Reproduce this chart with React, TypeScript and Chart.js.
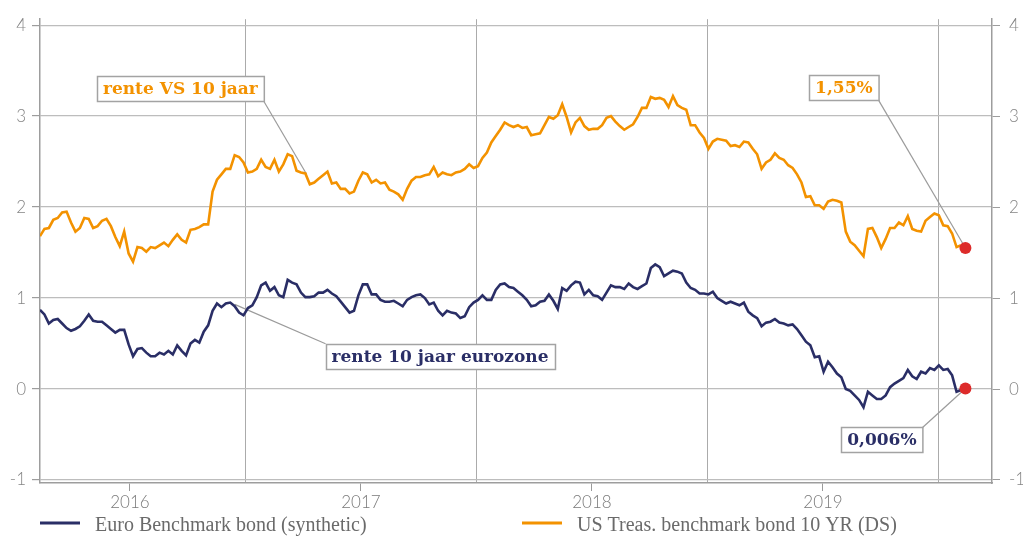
import React, { useEffect, useRef } from "react";
import { Chart, registerables } from "chart.js";

Chart.register(...registerables);

// ---------- data ----------
const FIRST_WEEK = "2015-08-12"; // weekly observations start here
const AXIS_START = "2015-08-12";
const AXIS_END = "2019-09-25";
const YEAR_TICKS = [2016, 2017, 2018, 2019];
const HALF_YEAR_LINES = [2016.5, 2017.5, 2018.5, 2019.5];
const Y_TICKS = [-1, 0, 1, 2, 3, 4];
const Y_MIN = -1.033;
const Y_MAX = 4.065;

const SERIES_NAMES = [
  "Euro Benchmark bond (synthetic)",
  "US Treas. benchmark bond 10 YR (DS)",
];

// Euro Benchmark bond (synthetic), weekly
const EURO = [
  0.87, 0.82, 0.72, 0.76, 0.77, 0.72, 0.67, 0.64, 0.66, 0.69,
  0.75, 0.82, 0.75, 0.74, 0.74, 0.7, 0.66, 0.62, 0.65, 0.65,
  0.49, 0.36, 0.44, 0.45, 0.4, 0.36, 0.36, 0.4, 0.38, 0.42,
  0.38, 0.48, 0.42, 0.37, 0.5, 0.54, 0.51, 0.63, 0.7, 0.86,
  0.94, 0.9, 0.94, 0.95, 0.91, 0.84, 0.81, 0.89, 0.92, 1.01,
  1.14, 1.17, 1.08, 1.12, 1.03, 1.01, 1.2, 1.17, 1.15, 1.06,
  1.01, 1.01, 1.02, 1.06, 1.06, 1.09, 1.05, 1.02, 0.96, 0.9,
  0.84, 0.86, 1.03, 1.15, 1.15, 1.04, 1.04, 0.98, 0.96, 0.96,
  0.97, 0.94, 0.91, 0.98, 1.01, 1.03, 1.04, 1.0, 0.93, 0.95,
  0.86, 0.81, 0.86, 0.84, 0.83, 0.78, 0.8, 0.9, 0.95, 0.98,
  1.03, 0.98, 0.98, 1.09, 1.15, 1.16, 1.12, 1.11, 1.07, 1.03,
  0.98, 0.91, 0.92, 0.96, 0.97, 1.04, 0.97, 0.88, 1.11, 1.08,
  1.14, 1.18, 1.17, 1.04, 1.09, 1.03, 1.02, 0.98, 1.06, 1.14,
  1.12, 1.12, 1.1, 1.16, 1.12, 1.1, 1.13, 1.16, 1.33, 1.37,
  1.34, 1.24, 1.27, 1.3, 1.29, 1.27, 1.17, 1.11, 1.09, 1.05,
  1.05, 1.04, 1.07, 1.0, 0.97, 0.94, 0.96, 0.94, 0.92, 0.95,
  0.85, 0.81, 0.78, 0.69, 0.73, 0.74, 0.77, 0.73, 0.72, 0.7,
  0.71, 0.66, 0.59, 0.52, 0.48, 0.35, 0.36, 0.19, 0.3, 0.24,
  0.17, 0.13, 0.0, -0.02, -0.07, -0.12, -0.2, -0.03, -0.07, -0.11,
  -0.11, -0.07, 0.02, 0.06, 0.09, 0.12, 0.21, 0.14, 0.11, 0.19,
  0.17, 0.23, 0.21, 0.26, 0.21, 0.22, 0.15, -0.03, -0.01,
];

// US Treasury benchmark bond 10 YR, weekly
const US = [
  1.68, 1.76, 1.77, 1.86, 1.88, 1.94, 1.95, 1.83, 1.73, 1.77,
  1.88, 1.87, 1.77, 1.79, 1.85, 1.87, 1.79, 1.67, 1.57, 1.73,
  1.49, 1.4, 1.56, 1.55, 1.51, 1.56, 1.55, 1.58, 1.61, 1.57,
  1.64, 1.7, 1.64, 1.61, 1.75, 1.76, 1.78, 1.81, 1.81, 2.17,
  2.3, 2.36, 2.42, 2.42, 2.57, 2.55, 2.49, 2.38, 2.39, 2.42,
  2.52, 2.44, 2.42, 2.52, 2.39, 2.47, 2.58, 2.56, 2.4, 2.38,
  2.37, 2.25, 2.27, 2.31, 2.35, 2.39, 2.26, 2.27, 2.2, 2.2,
  2.15, 2.17, 2.29, 2.38, 2.36, 2.27, 2.3, 2.26, 2.27, 2.19,
  2.17, 2.14, 2.08, 2.2, 2.29, 2.33, 2.33, 2.35, 2.36, 2.44,
  2.34, 2.38, 2.36, 2.35, 2.38, 2.39, 2.42, 2.47, 2.43, 2.45,
  2.54, 2.6, 2.71, 2.78, 2.85, 2.93, 2.9, 2.88, 2.9, 2.87,
  2.88, 2.79, 2.8, 2.81, 2.9, 2.99, 2.97, 3.01, 3.13, 2.99,
  2.82, 2.93, 2.98, 2.89, 2.85, 2.86, 2.86, 2.9, 2.98, 3.0,
  2.94, 2.89, 2.85, 2.88, 2.91, 2.99, 3.09, 3.09, 3.21, 3.19,
  3.2, 3.18, 3.1, 3.22, 3.12, 3.09, 3.07, 2.9, 2.9, 2.82,
  2.76, 2.64, 2.72, 2.75, 2.74, 2.73, 2.67, 2.68, 2.66, 2.72,
  2.71, 2.64, 2.58, 2.42, 2.49, 2.52, 2.59, 2.54, 2.52, 2.46,
  2.43, 2.36, 2.27, 2.11, 2.12, 2.02, 2.02, 1.98, 2.06, 2.08,
  2.07, 2.05, 1.73, 1.62, 1.58, 1.52, 1.46, 1.76, 1.77, 1.67,
  1.55, 1.65, 1.77, 1.77, 1.83, 1.8, 1.9, 1.76, 1.74, 1.73,
  1.85, 1.89, 1.93, 1.91, 1.8, 1.79, 1.71, 1.56, 1.58,
];

// Latest values (red markers)
const LAST_DATE = "2019-08-14";
const LAST_EURO = 0.006;
const LAST_US = 1.55;

const NAVY = "#2a2e66";
const ORANGE = "#f39200";
const RED = "#dd2b2a";

const ANNOTATIONS = [
  { text: "rente VS 10 jaar", color: ORANGE, boxDate: "2016-03-21", boxValue: 3.3, corner: "br", targetDate: "2016-10-07", targetValue: 2.36 },
  { text: "rente 10 jaar eurozone", color: NAVY, boxDate: "2017-05-06", boxValue: 0.36, corner: "tl", targetDate: "2016-06-15", targetValue: 0.93 },
  { text: "1,55%", color: ORANGE, boxDate: "2019-02-03", boxValue: 3.31, corner: "br", targetDate: LAST_DATE, targetValue: LAST_US },
  { text: "0,006%", color: NAVY, boxDate: "2019-04-04", boxValue: -0.56, corner: "tr", targetDate: LAST_DATE, targetValue: LAST_EURO },
];

// ---------- helpers ----------
function msToYear(ms: number): number {
  const y = new Date(ms).getUTCFullYear();
  const s = Date.UTC(y, 0, 1);
  const e = Date.UTC(y + 1, 0, 1);
  return y + (ms - s) / (e - s);
}
function dateMs(d: string): number {
  const [y, m, dd] = d.split("-").map(Number);
  return Date.UTC(y, m - 1, dd);
}
function toYear(d: string): number {
  return msToYear(dateMs(d));
}
const WEEK_X = EURO.map((_, i) => msToYear(dateMs(FIRST_WEEK) + i * 7 * 86400000));

const ANN_FONT = "bold 17px 'DejaVu Serif', serif";
const TICK_FONT = { family: "Lato, 'Open Sans', sans-serif", size: 17, weight: "300" as any };

function boxGeom(ctx: CanvasRenderingContext2D, chart: any, a: any) {
  ctx.save();
  ctx.font = ANN_FONT;
  const w = ctx.measureText(a.text).width + 12;
  ctx.restore();
  const h = 25;
  const cx = chart.scales.x.getPixelForValue(toYear(a.boxDate));
  const cy = chart.scales.y.getPixelForValue(a.boxValue);
  let px = cx, py = cy;
  if (a.corner === "br") { px = cx + w / 2; py = cy + h / 2; }
  if (a.corner === "tl") { px = cx - w / 2; py = cy - h / 2; }
  if (a.corner === "tr") { px = cx + w / 2; py = cy - h / 2; }
  return { cx, cy, w, h, px, py };
}

const overlayPlugin = {
  id: "overlay",
  beforeDatasetsDraw(chart: any) {
    const ctx = chart.ctx as CanvasRenderingContext2D;
    ctx.save();
    ctx.strokeStyle = "#9b9b9b";
    ctx.lineWidth = 1.2;
    for (const a of ANNOTATIONS) {
      const g = boxGeom(ctx, chart, a);
      const tx = chart.scales.x.getPixelForValue(toYear(a.targetDate));
      const ty = chart.scales.y.getPixelForValue(a.targetValue);
      ctx.beginPath();
      ctx.moveTo(g.px, g.py);
      ctx.lineTo(tx, ty);
      ctx.stroke();
    }
    ctx.restore();
  },
  afterDatasetsDraw(chart: any) {
    const ctx = chart.ctx as CanvasRenderingContext2D;
    ctx.save();
    for (const a of ANNOTATIONS) {
      const g = boxGeom(ctx, chart, a);
      const x0 = Math.round(g.cx - g.w / 2) + 0.5;
      const y0 = Math.round(g.cy - g.h / 2) + 0.5;
      ctx.fillStyle = "#ffffff";
      ctx.fillRect(x0, y0, g.w, g.h);
      ctx.strokeStyle = "#a3a3a3";
      ctx.lineWidth = 1.5;
      ctx.strokeRect(x0, y0, g.w, g.h);
      ctx.fillStyle = a.color;
      ctx.font = ANN_FONT;
      ctx.textAlign = "center";
      ctx.textBaseline = "middle";
      ctx.fillText(a.text, g.cx, g.cy + 1);
    }
    ctx.restore();
  },
  afterDraw(chart: any) {
    const ctx = chart.ctx as CanvasRenderingContext2D;
    ctx.save();
    const items = [
      { name: SERIES_NAMES[0], color: NAVY, x: 40 },
      { name: SERIES_NAMES[1], color: ORANGE, x: 522 },
    ];
    for (const it of items) {
      ctx.strokeStyle = it.color;
      ctx.lineWidth = 3;
      ctx.beginPath();
      ctx.moveTo(it.x, 523);
      ctx.lineTo(it.x + 40, 523);
      ctx.stroke();
      ctx.fillStyle = "#6a6a6a";
      ctx.font = "20px 'Liberation Serif', serif";
      ctx.textAlign = "left";
      ctx.textBaseline = "middle";
      ctx.fillText(it.name, it.x + 55, 526);
    }
    ctx.restore();
  },
};

const isInt = (c: any) => c && c.tick && Number.isInteger(c.tick.value);

export default function App() {
  const ref = useRef<HTMLCanvasElement | null>(null);
  useEffect(() => {
    if (!ref.current) return;
    const yAxisBase = {
      type: "linear" as const,
      min: Y_MIN,
      max: Y_MAX,
      afterBuildTicks: (s: any) => {
        s.ticks = Y_TICKS.map((v) => ({ value: v }));
      },
    };
    const chart = new Chart(ref.current, {
      type: "line",
      data: {
        datasets: [
          {
            label: SERIES_NAMES[0],
            data: EURO.map((v, i) => ({ x: WEEK_X[i], y: v })),
            borderColor: NAVY,
            borderWidth: 2.6,
            pointRadius: 0,
            tension: 0,
            order: 2,
          },
          {
            label: SERIES_NAMES[1],
            data: US.map((v, i) => ({ x: WEEK_X[i], y: v })),
            borderColor: ORANGE,
            borderWidth: 2.6,
            pointRadius: 0,
            tension: 0,
            order: 2,
          },
          {
            label: "laatste",
            data: [
              { x: toYear(LAST_DATE), y: LAST_US },
              { x: toYear(LAST_DATE), y: LAST_EURO },
            ],
            showLine: false,
            pointRadius: 6,
            pointBackgroundColor: RED,
            pointBorderWidth: 0,
            borderColor: RED,
            order: 1,
          },
        ],
      },
      options: {
        responsive: false,
        maintainAspectRatio: false,
        animation: false,
        layout: { padding: { top: 15, left: 0, right: 0, bottom: 0 } },
        plugins: { legend: { display: false }, tooltip: { enabled: false } },
        scales: {
          x: {
            type: "linear",
            position: "bottom",
            min: toYear(AXIS_START),
            max: toYear(AXIS_END),
            afterBuildTicks: (s: any) => {
              s.ticks = [...YEAR_TICKS, ...HALF_YEAR_LINES]
                .sort((a, b) => a - b)
                .map((v) => ({ value: v }));
            },
            afterFit: (s: any) => {
              s.height = 54;
            },
            ticks: {
              autoSkip: false,
              maxRotation: 0,
              padding: 1,
              color: "#7a7a7a",
              font: TICK_FONT,
              callback: (v: any) => (Number.isInteger(v) ? String(v) : ""),
            },
            grid: {
              color: (c: any) => (isInt(c) ? "rgba(0,0,0,0)" : "#ababab"),
              tickColor: (c: any) => (isInt(c) ? "#9a9a9a" : "rgba(0,0,0,0)"),
              tickLength: 8,
              lineWidth: 1,
            },
            border: { color: "#9d9d9d", width: 1.5 },
          },
          y: {
            ...yAxisBase,
            position: "left",
            afterFit: (s: any) => {
              s.width = 40;
            },
            ticks: { padding: 6, color: "#858585", font: TICK_FONT },
            grid: { color: "#bdbdbd", tickColor: "#9d9d9d", tickLength: 8, lineWidth: 1.2 },
            border: { color: "#9d9d9d", width: 1.5 },
          },
          y2: {
            ...yAxisBase,
            position: "right",
            afterFit: (s: any) => {
              s.width = 31;
            },
            ticks: { padding: 9, color: "#858585", font: TICK_FONT },
            grid: { drawOnChartArea: false, tickColor: "#9d9d9d", tickLength: 8 },
            border: { color: "#9d9d9d", width: 1.5 },
          },
        },
      },
      plugins: [overlayPlugin],
    });
    return () => chart.destroy();
  }, []);

  return (
    <div style={{ position: "fixed", left: 0, top: 0, width: 1023, height: 537, background: "#fff" }}>
      <canvas ref={ref} width={1023} height={537} style={{ display: "block" }} />
    </div>
  );
}
